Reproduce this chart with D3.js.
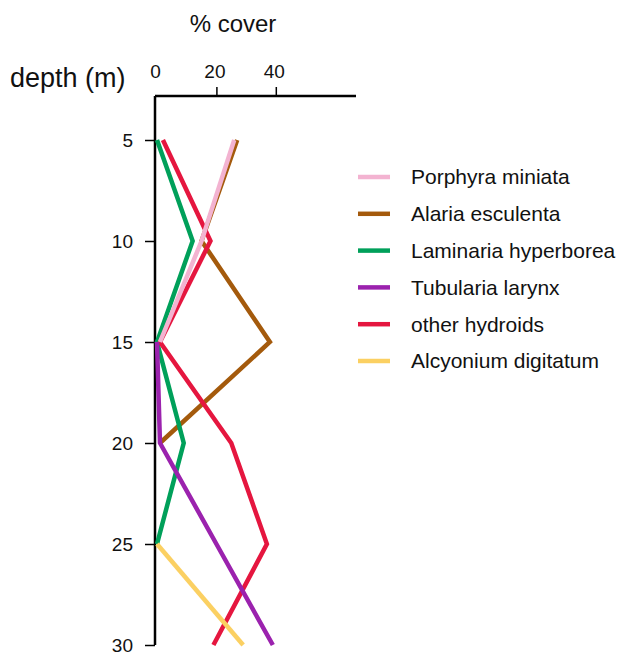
<!DOCTYPE html>
<html>
<head>
<meta charset="utf-8">
<script src="https://cdn.jsdelivr.net/npm/d3@7"></script>
<style>
  body { margin: 0; background: #fff; }
  svg { font-family: "Liberation Sans", Arial, Helvetica, sans-serif; }
</style>
</head>
<body>
<svg width="621" height="655"></svg>
<script>
const width = 621;
const height = 655;

// depth levels (m) and % cover per species
const depths = [5, 10, 15, 20, 25, 30];
const species = ["Porphyra miniata", "Alaria esculenta", "Laminaria hyperborea",
                 "Tubularia larynx", "other hydroids", "Alcyonium digitatum"];
const colors = ["#f3b3d1", "#a45a0c", "#00a05a", "#9b22ae", "#e5163f", "#fbd062"];
const porphyra = [26, 15, 1, null, null, null];
const alaria = [27, 15, 38, 1, null, null];
const laminaria = [0, 12, 0, 9, 0, null];
const tubularia = [null, null, 0, 1, 20, 39];
const hydroids = [2, 18, 1, 25, 37, 19];
const alcyonium = [null, null, null, null, 0, 29];
const coverTicks = [0, 20, 40];

const seriesValues = [porphyra, alaria, laminaria, tubularia, hydroids, alcyonium];
// order the lines are stacked in (last on top)
const drawOrder = [1, 2, 4, 3, 5, 0];

const xScale = d3.scaleLinear()
                 .domain([0, 67])
                 .range([157, 356]);
const yScale = d3.scaleLinear()
                 .domain([5, 30])
                 .range([140, 645]);

const svg = d3.select("svg");

// top axis
const xAxis = d3.axisTop(xScale)
                .tickValues(coverTicks)
                .tickSize(9)
                .tickSizeOuter(0)
                .tickPadding(9);
const gx = svg.append("g")
    .attr("transform", "translate(0, 96)")
    .call(xAxis);
gx.select(".domain").attr("d", "M155,0H356").attr("stroke-width", 2.5);
gx.selectAll(".tick line").attr("stroke-width", 1.5);
gx.selectAll(".tick").filter(d => d === 0).select("line").remove();
gx.selectAll(".tick text")
  .style("font-size", "19px")
  .style("font-family", "'Liberation Sans', Arial, sans-serif")
  .attr("fill", "#111").attr("dx", -2);

// left axis
const yAxis = d3.axisLeft(yScale)
                .tickValues(depths)
                .tickSize(10)
                .tickSizeOuter(0)
                .tickPadding(12);
const gy = svg.append("g")
    .attr("transform", "translate(155, 0)")
    .call(yAxis);
gy.select(".domain").attr("d", "M0,96V645").attr("stroke-width", 2.5);
gy.selectAll(".tick line").attr("stroke-width", 1.5);
gy.selectAll(".tick text")
  .style("font-size", "19px")
  .style("font-family", "'Liberation Sans', Arial, sans-serif")
  .attr("fill", "#111");

// lines
const line = d3.line()
    .defined(d => d.v !== null)
    .x(d => xScale(d.v))
    .y(d => yScale(d.depth));

svg.append("g")
  .selectAll("path")
  .data(drawOrder)
  .enter()
  .append("path")
    .attr("fill", "none")
    .attr("stroke", i => colors[i])
    .attr("stroke-width", 4.5)
    .attr("d", i => line(seriesValues[i].map((v, j) => ({ v: v, depth: depths[j] }))));

// titles
svg.append("text")
    .attr("x", 233)
    .attr("y", 32)
    .style("text-anchor", "middle")
    .style("font-size", "24px")
    .attr("fill", "#111")
    .text("% cover");
svg.append("text")
    .attr("x", 10)
    .attr("y", 87)
    .style("font-size", "27px")
    .attr("fill", "#111")
    .text("depth (m)");

// legend
const legend = svg.append("g")
  .selectAll("g")
  .data(species)
  .enter()
  .append("g")
    .attr("transform", (d, i) => "translate(358, " + (177 + i * 36.8) + ")");
legend.append("line")
    .attr("x1", 0).attr("x2", 32)
    .attr("stroke", (d, i) => colors[i])
    .attr("stroke-width", 4.5);
legend.append("text")
    .attr("x", 53)
    .attr("dy", "0.35em")
    .style("font-size", "21px")
    .attr("fill", "#111")
    .text(d => d);
</script>
</body>
</html>
